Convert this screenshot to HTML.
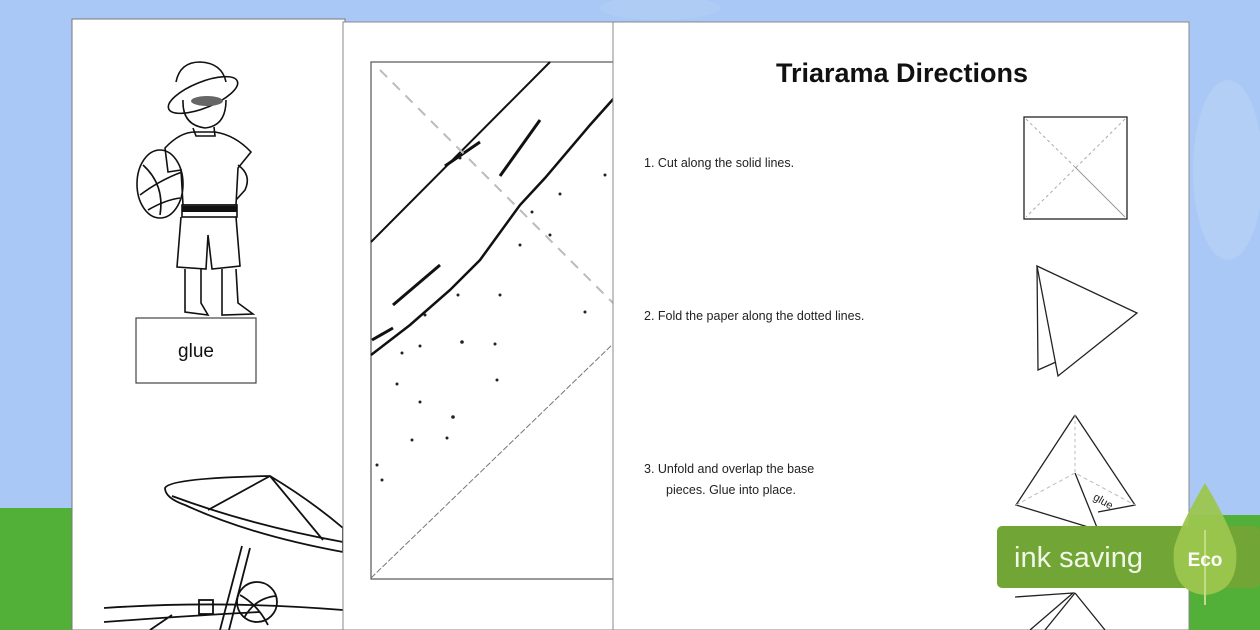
<!DOCTYPE html>
<html><head><meta charset="utf-8"><style>
html,body{margin:0;padding:0;width:1260px;height:630px;overflow:hidden;background:#a8c8f6}
svg{display:block}
text{font-family:"Liberation Sans",sans-serif}
</style></head><body>
<svg width="1260" height="630" viewBox="0 0 1260 630" xmlns="http://www.w3.org/2000/svg">
<rect width="1260" height="630" fill="#a9c8f5"/>
<ellipse cx="1228" cy="170" rx="35" ry="90" fill="#bcd4f6" opacity="0.6"/>
<ellipse cx="660" cy="8" rx="60" ry="12" fill="#b6d0f6" opacity="0.5"/>
<!-- grass -->
<rect x="0" y="508" width="80" height="122" fill="#52b038"/>
<rect x="1185" y="515" width="75" height="115" fill="#52b038"/>
<!-- left page -->
<rect x="72" y="19" width="273" height="611" fill="#fff" stroke="#777" stroke-width="1"/>
<!-- boy -->
<g fill="none" stroke="#111" stroke-width="1.6">
<path d="M176 82 Q180 62 200 62 Q222 63 226 82"/>
<ellipse cx="203" cy="95" rx="37" ry="13" transform="rotate(-22 203 95)"/>
<path d="M183 100 Q182 125 205 128 Q226 126 226 100"/>
<path d="M193 128 L196 136 L215 136 L214 127"/>
<path d="M165 148 Q180 132 195 132 L215 132 Q235 135 251 152 L238 168 L236 205 L183 205 L181 170 L168 172 Z"/>
<ellipse cx="160" cy="184" rx="23" ry="34"/>
<path d="M143 165 Q165 185 160 215 M140 195 Q160 180 182 172 M148 210 Q165 200 180 198"/>
<path d="M238 165 Q252 175 245 190 L236 200"/>
<rect x="182" y="205" width="55" height="12"/>
<path d="M181 217 L177 267 L206 269 L208 235 L212 269 L240 266 L236 217"/>
<path d="M185 269 L185 312 L208 315 L201 303 L201 269 M222 269 L222 315 L253 314 L238 303 L236 269"/>
</g>
<rect x="182" y="206" width="55" height="6" fill="#111"/>
<ellipse cx="207" cy="101" rx="16" ry="5" fill="#666"/>
<rect x="136" y="318" width="120" height="65" fill="#fff" stroke="#444" stroke-width="1.2"/>
<text x="196" y="357" font-size="19" text-anchor="middle" fill="#111">glue</text>
<!-- umbrella -->
<g fill="none" stroke="#111" stroke-width="1.8">
<path d="M165 488 Q170 478 270 476 Q310 500 343 528 L343 552 Q250 535 185 505 Q165 498 165 488 Z"/>
<path d="M172 496 Q250 525 343 542"/>
<path d="M270 476 L208 510 M270 476 L323 540"/>
<path d="M242 546 L220 630 M250 548 L229 630"/>
<circle cx="257" cy="602" r="20"/>
<path d="M240 595 Q258 605 268 625 M244 618 Q255 598 276 596"/>
<path d="M104 608 Q220 600 343 610 M104 622 Q200 615 260 612 M150 630 L172 615"/>
<rect x="199" y="600" width="14" height="14"/>
</g>
<!-- middle page -->
<rect x="343" y="22" width="272" height="608" fill="#fff" stroke="#888" stroke-width="1"/>
<rect x="371" y="62" width="244" height="517" fill="none" stroke="#555" stroke-width="1.2"/>
<path d="M371 242 L550 62" stroke="#111" stroke-width="2" fill="none"/>
<path d="M371 355 L410 325 L450 290 L480 260 L520 205 L545 178 L590 125 L615 97" stroke="#111" stroke-width="2.5" fill="none"/>
<path d="M393 305 L440 265 M445 166 L480 142 M500 176 L540 120 M372 340 L393 328" stroke="#111" stroke-width="3" fill="none"/>
<path d="M380 70 L615 305" stroke="#bbb" stroke-width="2" stroke-dasharray="10 8" fill="none"/>
<path d="M371 578 L615 342" stroke="#777" stroke-width="1" stroke-dasharray="6 2" fill="none"/>
<g fill="#222">
<circle cx="460" cy="158" r="1.5"/><circle cx="560" cy="194" r="1.5"/><circle cx="605" cy="175" r="1.5"/><circle cx="532" cy="212" r="1.5"/><circle cx="550" cy="235" r="1.5"/><circle cx="520" cy="245" r="1.5"/><circle cx="458" cy="295" r="1.5"/><circle cx="500" cy="295" r="1.5"/><circle cx="425" cy="315" r="1.5"/><circle cx="462" cy="342" r="1.8"/><circle cx="495" cy="344" r="1.5"/><circle cx="402" cy="353" r="1.5"/><circle cx="397" cy="384" r="1.5"/><circle cx="497" cy="380" r="1.5"/><circle cx="420" cy="402" r="1.5"/><circle cx="453" cy="417" r="1.8"/><circle cx="412" cy="440" r="1.5"/><circle cx="377" cy="465" r="1.5"/><circle cx="382" cy="480" r="1.5"/><circle cx="447" cy="438" r="1.5"/><circle cx="420" cy="346" r="1.5"/><circle cx="585" cy="312" r="1.5"/>
</g>
<!-- right page -->
<rect x="613" y="22" width="576" height="608" fill="#fff" stroke="#888" stroke-width="1"/>
<text x="902" y="82" font-size="27" font-weight="bold" text-anchor="middle" fill="#111">Triarama Directions</text>
<text x="644" y="167" font-size="12.5" fill="#222">1.  Cut along the solid lines.</text>
<text x="644" y="320" font-size="12.5" fill="#222">2.  Fold the paper along the dotted lines.</text>
<text x="644" y="473" font-size="12.5" fill="#222">3.  Unfold and overlap the base</text>
<text x="666" y="494" font-size="12.5" fill="#222">pieces. Glue into place.</text>
<rect x="1024" y="117" width="103" height="102" fill="none" stroke="#222" stroke-width="1.3"/>
<path d="M1026 119 L1075 167 M1125 119 L1026 217" stroke="#aaa" stroke-dasharray="3 3" fill="none"/>
<path d="M1075 167 L1125 217" stroke="#999" fill="none"/>
<g fill="none" stroke="#222" stroke-width="1.3">
<path d="M1037 266 L1137 313 L1058 376 Z"/>
<path d="M1037 266 L1038 370 L1056 362"/>
<path d="M1075 415 L1135 505 L1098 512 M1075 415 L1016 505 L1098 530"/>
<path d="M1075 473 L1098 530 M1015 597 L1073 593 L1030 630"/>
</g>
<path d="M1075 415 L1075 473" stroke="#bbb" stroke-dasharray="3 3" fill="none"/>
<path d="M1016 505 L1075 473 L1135 505" stroke="#bbb" stroke-dasharray="4 3" fill="none"/>
<text x="1093" y="503" font-size="11" fill="#222" transform="rotate(30 1100 500)">glue</text>
<path d="M1075 593 L1045 630 M1075 593 L1105 630" stroke="#222" stroke-width="1.3" fill="none"/>
<!-- ink saving -->
<rect x="997" y="526" width="263" height="62" rx="5" fill="#71a536"/>
<text x="1014" y="567" font-size="29" fill="#f2f7e8">ink saving</text>
<path d="M1205 483 Q1180 525 1174 548 Q1170 592 1205 595 Q1240 592 1236 548 Q1230 525 1205 483 Z" fill="#9bc64e" opacity="0.95"/>
<line x1="1205" y1="530" x2="1205" y2="605" stroke="#c2dd88" stroke-width="2"/>
<text x="1205" y="566" font-size="19" font-weight="bold" fill="#fff" text-anchor="middle">Eco</text>
</svg>
</body></html>
